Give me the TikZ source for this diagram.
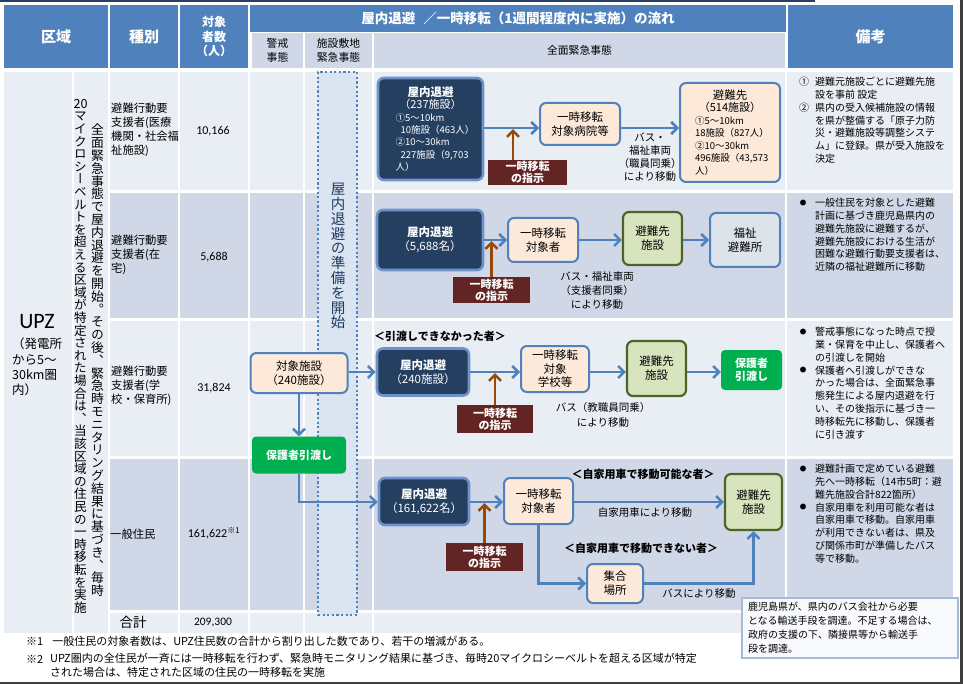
\documentclass[tikz,border=0pt]{standalone}
\usepackage{fontspec}
\setmainfont{Noto Sans CJK JP}
\newfontfamily\vjp[RawFeature=+vert]{Noto Sans CJK JP}
\newfontfamily\numf{Carlito}
\usetikzlibrary{positioning}
\usetikzlibrary{arrows.meta}

\definecolor{hdblue}{HTML}{4F81BD}
\definecolor{subhd}{HTML}{D0D8E8}
\definecolor{rowlt}{HTML}{E9EDF4}
\definecolor{rowdk}{HTML}{D0D8E8}
\definecolor{navy}{HTML}{243F60}
\definecolor{glow}{HTML}{6E93C8}
\definecolor{peach}{HTML}{FDE9D9}
\definecolor{lgreen}{HTML}{D7E4BD}
\definecolor{olive}{HTML}{4F6228}
\definecolor{grayblue}{HTML}{DCE3EA}
\definecolor{okgreen}{HTML}{00B050}
\definecolor{brownred}{HTML}{632523}
\definecolor{ordbrown}{HTML}{984807}
\definecolor{prepfill}{HTML}{DBE5F1}
\definecolor{preptext}{HTML}{203864}
\definecolor{noteline}{HTML}{A6B9D6}
\definecolor{busfill}{HTML}{F7F9FC}
\definecolor{framenavy}{HTML}{243F60}
\definecolor{framegray}{HTML}{3F3F3F}

\newcommand\fsz[2]{\fontsize{#1}{#2}\selectfont}
\newcommand\boxl[1]{\makebox[70pt][l]{#1}}
\makeatletter
\newcommand\tate[2]{\vbox{\baselineskip=#1\lineskip=0pt\lineskiplimit=-\maxdimen
  \@tfor\tatech:=#2\do{\hbox to 16pt{\hss\tatech\hss}}}}
\makeatother

\tikzset{
  hdcell/.style={fill=hdblue, text=white, font=\fsz{15}{17}\bfseries, align=center, inner sep=0pt},
  subcell/.style={fill=subhd, font=\fsz{10.8}{14}, align=center, inner sep=0pt},
  kindtxt/.style={font=\fsz{11.3}{14}, align=left, anchor=north west, inner sep=0pt},
  numtxt/.style={font=\numf\fsz{12}{14}, inner sep=0pt},
  flowbox/.style={rounded corners=6pt, align=center, inner sep=0pt, font=\fsz{11.5}{14}},
  darkbox/.style={flowbox, fill=navy, draw=glow, line width=2.6pt, text=white},
  peachbox/.style={flowbox, fill=peach, draw=hdblue, line width=2pt},
  destbox/.style={flowbox, fill=lgreen, draw=olive, line width=2.2pt},
  welfbox/.style={flowbox, fill=grayblue, draw=hdblue, line width=2pt},
  handbox/.style={flowbox, fill=okgreen, text=white, font=\fsz{11}{13.5}\bfseries, rounded corners=4pt},
  ordbox/.style={fill=brownred, text=white, font=\fsz{11}{11.8}\bfseries, align=center, inner sep=0pt},
  flowarrow/.style={draw=hdblue, line width=2.5pt, ->},
  ordarrow/.style={draw=ordbrown, line width=2.5pt, ->, shorten >=1.2pt},
  routelbl/.style={font=\fsz{10.5}{13}, align=center, inner sep=0pt},
  grouplbl/.style={font=\fsz{11}{13}\bfseries, inner sep=0pt},
  notetxt/.style={font=\fsz{10}{12.8}, align=left, anchor=north west, inner sep=0pt},
  notemark/.style={font=\fsz{10}{12.8}, anchor=north west, inner sep=0pt},
  bullet/.style={font=\fsz{6.5}{8}, inner sep=0pt},
  prepbox/.style={fill=prepfill, draw=hdblue, line width=2.2pt, dash pattern=on 2.2pt off 2.4pt},
  foot/.style={font=\fsz{11}{14.5}, inner sep=0pt, align=left}
}

\begin{document}
\begin{tikzpicture}[x=1pt, y=-1pt, >={Straight Barb[length=6pt,width=12pt]}]
\useasboundingbox (0,0) rectangle (963,684);

% header row
\node[hdcell, minimum width=104, minimum height=63] (hzone) at (56,36.5) {区域};
\node[hdcell, minimum width=68, minimum height=63] (hkind) at (144,36.5) {種別};
\node[hdcell, minimum width=68, minimum height=63, font=\fsz{12}{14.5}\bfseries] (hnum) at (214,36.5) {対象\\者数\\（人）};
\node[hdcell, minimum width=536, minimum height=27, font=\fsz{13.5}{15}\bfseries] (hflow) at (518,18.5) {屋内退避\hspace{0.6em}／一時移転（1週間程度内に実施）の流れ};
\node[subcell, minimum width=51, minimum height=35] (hwarn) at (277.5,50.5) {警戒\\事態};
\node[subcell, minimum width=67, minimum height=35] (hsite) at (338.5,50.5) {施設敷地\\緊急事態};
\node[subcell, minimum width=411, minimum height=35] (hfull) at (579.5,50.5) {全面緊急事態};
\node[hdcell, minimum width=165, minimum height=63] (hnote) at (870.5,36.5) {備考};

% body cells
\fill[rowlt] (4,72) rectangle (72,633);
\fill[rowlt] (74,72) rectangle (108,633);
\foreach \ya/\yb/\rc in {72/190/rowlt, 193/318/rowdk, 321/456/rowlt, 459/610/rowdk, 613/633/rowlt}
  \foreach \xa/\xb in {110/178, 180/248, 250/303, 305/372, 374/785, 787/953}
    \fill[\rc] (\xa,\ya) rectangle (\xb,\yb);

% frame
\draw[framenavy, line width=2.5pt] (0,1.2) -- (815,1.2);
\draw[framegray, line width=3pt] (961.5,0) -- (961.5,684);
\draw[framegray, line width=2.5pt] (0,682.8) -- (963,682.8);

% zone column
\node[font=\numf\fsz{22}{24}, inner sep=0pt] (upz) at (37,322) {UPZ};
\node[font=\fsz{12.5}{15.2}, align=left, anchor=north west, inner sep=0pt] (upzsub) at (12,338) {（発電所\\から5〜\\30km圏\\内）};
\node[font=\vjp\fsz{12.8}{12.8}, inner sep=0pt, anchor=north] (vtA) at (97.5,124)
  {\tate{12.8pt}{全面緊急事態で屋内退避を開始。その後、緊急時モニタリング結果に基づき、毎時}};
\node[font=\vjp\fsz{12.6}{12.6}, inner sep=0pt, anchor=north] (vtB) at (80.5,99)
  {\tate{12.6pt}{{20}マイクロシーベルトを超える区域が特定された場合は、当該区域の住民の一時移転を実施}};

% kind and number columns
\node[kindtxt] (k1) at (111,103) {避難行動要\\支援者(医療\\機関・社会福\\祉施設)};
\node[kindtxt] (k2) at (111,235) {避難行動要\\支援者(在\\宅)};
\node[kindtxt] (k3) at (111,366) {避難行動要\\支援者(学\\校・保育所)};
\node[kindtxt, anchor=west] (k4) at (110,534) {一般住民};
\node[font=\fsz{13.5}{15}, inner sep=0pt] (ksum) at (133,622) {合計};
\node[numtxt] (n1) at (213,131) {10,166};
\node[numtxt] (n2) at (214,257) {5,688};
\node[numtxt] (n3) at (214,388) {31,824};
\node[numtxt] (n4) at (214,533) {161,622\textsuperscript{\rmfamily ※1}};
\node[numtxt, font=\numf\fsz{11.5}{13}] (nsum) at (213,622) {209,300};

% notes column
\node[notemark] (m1a) at (799,77) {①};
\node[notetxt] (t1a) at (815,77) {避難元施設ごとに避難先施\\設を事前 設定};
\node[notemark] (m1b) at (799,102.6) {②};
\node[notetxt] (t1b) at (815,102.6) {県内の受入候補施設の情報\\を県が整備する「原子力防\\災・避難施設等調整システ\\ム」に登録。県が受入施設を\\決定};
\node[bullet] (b2) at (803,203) {●};
\node[notetxt] (t2) at (815,198) {一般住民を対象とした避難\\計画に基づき鹿児島県内の\\避難先施設に避難するが、\\避難先施設における生活が\\困難な避難行動要支援者は、\\近隣の福祉避難所に移動};
\node[bullet] (b3a) at (803,332) {●};
\node[notetxt] (t3a) at (815,327) {警戒事態になった時点で授\\業・保育を中止し、保護者へ\\の引渡しを開始};
\node[bullet] (b3b) at (803,370.4) {●};
\node[notetxt] (t3b) at (815,365.4) {保護者へ引渡しができな\\かった場合は、全面緊急事\\態発生による屋内退避を行\\い、その後指示に基づき一\\時移転先に移動し、保護者\\に引き渡す};
\node[bullet] (b4a) at (803,469) {●};
\node[notetxt] (t4a) at (815,464) {避難計画で定めている避難\\先へ一時移転（14市5町：避\\難先施設合計822箇所）};
\node[bullet] (b4b) at (803,507.4) {●};
\node[notetxt] (t4b) at (815,502.4) {自家用車を利用可能な者は\\自家用車で移動。自家用車\\が利用できない者は、県及\\び関係市町が準備したバス\\等で移動。};
\node[draw=noteline, line width=1.2pt, fill=busfill, font=\fsz{10}{14}, align=left, text width=204pt,
  minimum height=60, inner xsep=6pt, inner ysep=0pt] (bus) at (850,628)
  {鹿児島県が、県内のバス会社から必要\\となる輸送手段を調達。不足する場合は、\\政府の支援の下、隣接県等から輸送手\\段を調達。};

% preparation band
\node[prepbox, minimum width=39, minimum height=543] (prep) at (337.5,343.5) {};
\node[font=\vjp\fsz{14.5}{14.5}, text=preptext, inner sep=0pt, anchor=north] (preptxt) at (338,183)
  {\tate{14.8pt}{屋内退避の準備を開始}};

% row 1: medical and welfare facilities
\coordinate (l1) at (0,128);
\node[darkbox, minimum width=105, minimum height=102, font=\fsz{9.5}{12.3}] (d1) at (430.5,129)
  {{\fsz{11.5}{12.3}\bfseries 屋内退避}\\{\fsz{11}{12.3}（237施設）}\\\boxl{①5〜10km}\\\boxl{\hspace{5pt}10施設（463人）}\\\boxl{②10〜30km}\\\boxl{\hspace{5pt}227施設（9,703}\\\boxl{人）}};
\node[peachbox, minimum width=80, minimum height=42] (p1) at (580,124) {一時移転\\対象病院等};
\node[peachbox, minimum width=100, minimum height=99, font=\fsz{9.5}{12.5}] (dst1) at (730,132.5)
  {{\fsz{11.5}{12.5}避難先}\\{\fsz{11}{12.5}（514施設）}\\\boxl{①5〜10km}\\\boxl{18施設（827人）}\\\boxl{②10〜30km}\\\boxl{496施設（43,573}\\\boxl{人）}};
\node[routelbl] (r1) at (650,157.5) {バス・\\福祉車両\\（職員同乗）\\により移動};
\node[ordbox, minimum width=79, minimum height=25] (o1) at (527.5,172.5) {一時移転\\の指示};
\coordinate (o1a) at ([xshift=-14.5pt]o1.north);
\draw[flowarrow] (d1.east |- l1) -- (p1.west |- l1);
\draw[flowarrow] (p1.east |- l1) -- (dst1.west |- l1);
\draw[ordarrow] (o1a) -- (o1a |- l1);

% row 2: persons at home
\coordinate (l2) at (0,240);
\node[darkbox, minimum width=106, minimum height=60] (d2) at (430,240) {{\bfseries 屋内退避}\\（5,688名）};
\node[peachbox, minimum width=70, minimum height=44] (p2) at (543,240) {一時移転\\対象者};
\node[destbox, minimum width=59, minimum height=53] (dst2) at (652.5,238.5) {避難先\\施設};
\node[welfbox, minimum width=70, minimum height=54] (wf2) at (745,240) {福祉\\避難所};
\node[routelbl, font=\fsz{10.5}{14}] (r2) at (597,291) {バス・福祉車両\\（支援者同乗）\\により移動};
\node[ordbox, minimum width=77, minimum height=26] (o2) at (491.5,290) {一時移転\\の指示};
\draw[flowarrow] (d2.east |- l2) -- (p2.west |- l2);
\draw[flowarrow] (p2.east |- l2) -- (dst2.west |- l2);
\draw[flowarrow] (dst2.east |- l2) -- (wf2.west |- l2);
\draw[ordarrow] (o2.north) -- (o2.north |- l2);

% row 3: schools and nurseries
\coordinate (l3) at (0,372);
\node[grouplbl] (g3) at (440,336) {＜引渡しできなかった者＞};
\node[peachbox, minimum width=97, minimum height=40] (t3) at (299,373) {対象施設\\（240施設）};
\node[darkbox, minimum width=92, minimum height=47] (d3) at (423,372) {{\bfseries 屋内退避}\\（240施設）};
\node[peachbox, minimum width=68, minimum height=46, font=\fsz{11.5}{13.5}] (p3) at (555,369) {一時移転\\対象\\学校等};
\node[destbox, minimum width=59, minimum height=55] (dst3) at (656.5,368.5) {避難先\\施設};
\node[handbox, minimum width=61, minimum height=40] (h3) at (751.5,370) {保護者\\引渡し};
\node[handbox, minimum width=94, minimum height=37] (h3l) at (299,455) {保護者引渡し};
\node[routelbl, font=\fsz{10.5}{15}] (r3) at (603,415) {バス（教職員同乗）\\により移動};
\node[ordbox, minimum width=76, minimum height=28] (o3) at (495,419) {一時移転\\の指示};
\draw[flowarrow] (t3.east |- l3) -- (d3.west |- l3);
\draw[flowarrow] (d3.east |- l3) -- (p3.west |- l3);
\draw[flowarrow] (p3.east |- l3) -- (dst3.west |- l3);
\draw[flowarrow] (dst3.east |- l3) -- (h3.west |- l3);
\draw[flowarrow] (t3.south) -- (h3l.north);
\draw[ordarrow] (o3.north) -- (o3.north |- l3);

% row 4: general residents
\coordinate (l4) at (0,502);
\node[darkbox, minimum width=90, minimum height=47] (d4) at (424,501.5) {{\bfseries 屋内退避}\\（161,622名）};
\node[peachbox, minimum width=69, minimum height=46] (p4) at (538.5,501) {一時移転\\対象者};
\node[destbox, minimum width=57, minimum height=56] (dst4) at (753.5,502) {避難先\\施設};
\node[peachbox, minimum width=56, minimum height=39] (mp4) at (615,583.5) {集合\\場所};
\node[grouplbl] (g4a) at (643,474) {＜自家用車で移動可能な者＞};
\node[routelbl] (r4a) at (645,513) {自家用車により移動};
\node[grouplbl] (g4b) at (641,548) {＜自家用車で移動できない者＞};
\node[routelbl] (r4b) at (699,594) {バスにより移動};
\node[ordbox, minimum width=77, minimum height=28] (o4) at (484.5,557) {一時移転\\の指示};
\draw[flowarrow] (h3l.south) |- (d4.west |- l4);
\draw[flowarrow] (d4.east |- l4) -- (p4.west |- l4);
\draw[flowarrow] (p4.east |- l4) -- (dst4.west |- l4);
\draw[flowarrow] (p4.south) |- (mp4.west);
\draw[flowarrow] (mp4.east) -| (dst4.south);
\draw[ordarrow] (o4.north) -- (o4.north |- l4);

% footnotes
\node[foot, anchor=west] (f1) at (26,641) {※1\hspace{9pt}一般住民の対象者数は、UPZ住民数の合計から割り出した数であり、若干の増減がある。};
\node[foot, anchor=west] (f2) at (26,659.5) {※2};
\node[foot, anchor=north west] (f2t) at (50,652.5) {UPZ圏内の全住民が一斉には一時移転を行わず、緊急時モニタリング結果に基づき、毎時20マイクロシーベルトを超える区域が特定\\された場合は、特定された区域の住民の一時移転を実施};
\end{tikzpicture}
\end{document}
